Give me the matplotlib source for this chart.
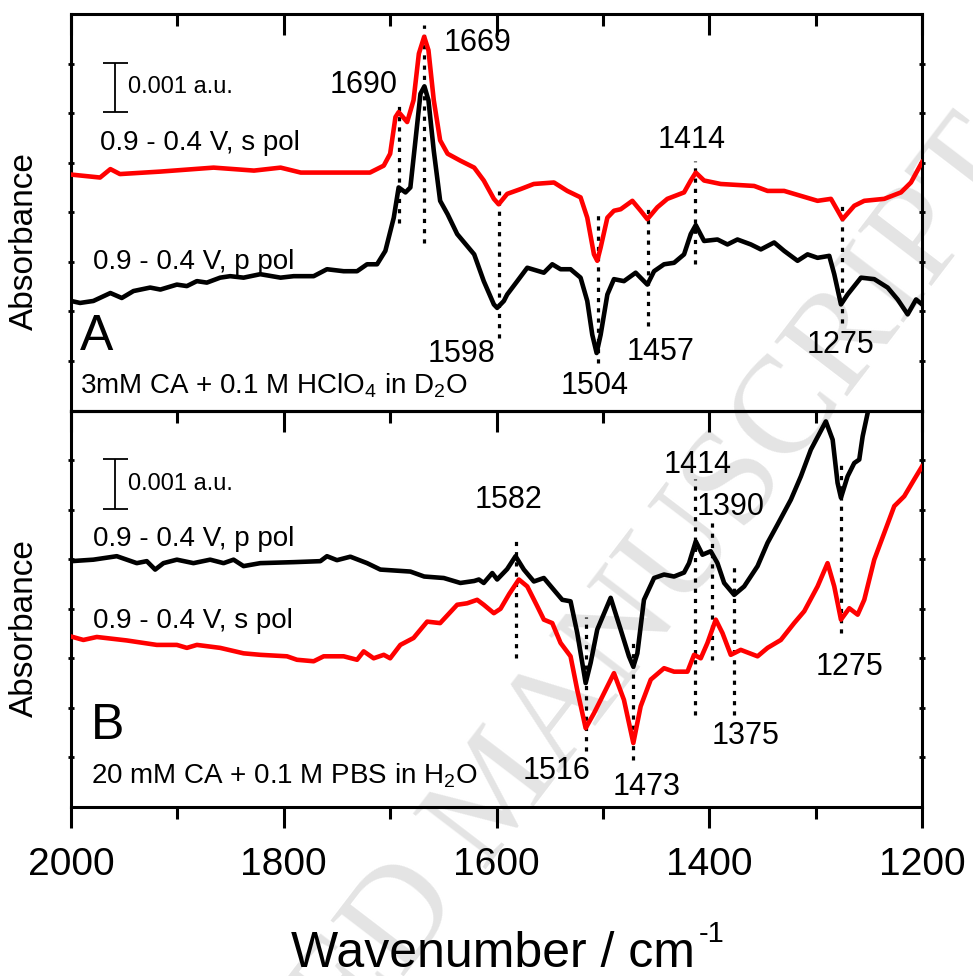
import matplotlib
matplotlib.use("Agg")
import matplotlib.pyplot as plt

plt.rcParams["font.family"] = ["Liberation Sans", "DejaVu Sans"]
plt.rcParams["mathtext.fontset"] = "custom"
plt.rcParams["mathtext.rm"] = "Liberation Sans"
plt.rcParams["mathtext.default"] = "regular"

# ---- panel A (3 mM CA + 0.1 M HClO4 in D2O), absorbance in 1e-3 a.u. (arbitrary offset) ----
wn_a_s = [2000, 1972.7, 1963, 1954, 1916, 1866, 1828, 1803, 1784, 1753, 1719, 1706, 1700, 1695,
          1692, 1684, 1678, 1673, 1668, 1664, 1659, 1653, 1646, 1634, 1621, 1612, 1602.5, 1598,
          1590, 1577, 1565, 1546, 1533.5, 1521, 1514.7, 1508.4, 1505.3, 1502.1, 1495.8, 1489.6,
          1483.3, 1472.3, 1464.5, 1458.2, 1448.8, 1439.4, 1423.7, 1417.4, 1412.7, 1404.9, 1389.2,
          1357.8, 1345.2, 1329.6, 1320.2, 1298.2, 1285.6, 1274.7, 1263.7, 1254.3, 1235.5, 1219.8,
          1210.4, 1200]
abs_a_s = [4.76, 4.70, 4.87, 4.77, 4.82, 4.90, 4.84, 4.90, 4.80, 4.80, 4.80, 4.94, 5.18, 5.92,
           6.02, 5.82, 6.26, 7.20, 7.54, 7.27, 6.26, 5.45, 5.18, 5.04, 4.90, 4.64, 4.27, 4.16,
           4.37, 4.47, 4.57, 4.60, 4.43, 4.30, 3.89, 3.15, 3.02, 3.29, 3.89, 4.03,
           4.06, 4.23, 4.03, 3.86, 4.10, 4.27, 4.40, 4.64, 4.80, 4.64, 4.57,
           4.53, 4.43, 4.43, 4.37, 4.23, 4.27, 3.86, 4.13, 4.23, 4.27, 4.40,
           4.60, 5.01]

wn_a_p = [2000, 1991.5, 1979, 1963, 1952.3, 1941.3, 1925.6, 1916, 1900.5, 1891.1, 1881.7, 1872.3,
          1859.8, 1850.4, 1837.8, 1822.1, 1803, 1790.7, 1771.9, 1759.4, 1743.7, 1731.1, 1721.7,
          1712.3, 1704.5, 1696.6, 1692, 1685.6, 1681, 1676.2, 1671.5, 1667.8, 1664, 1659, 1653,
          1646, 1637, 1621, 1612, 1602.5, 1599.4, 1593.1, 1590, 1580.5, 1571.1, 1555.5, 1547.6,
          1539.8, 1530.4, 1521, 1514.7, 1510, 1505.9, 1502.1, 1495.8, 1489.6, 1480.2, 1469.2,
          1458.2, 1451.9, 1442.5, 1433.1, 1423.7, 1417.4, 1412.7, 1404.9, 1392.3, 1382.9, 1373.5,
          1360.9, 1351.5, 1339, 1329.6, 1317, 1307.6, 1298.2, 1287.2, 1282.5, 1276.2, 1270,
          1257.4, 1244.9, 1232.3, 1222.9, 1213.5, 1205.6, 1200]
abs_a_p = [2.21, 2.17, 2.21, 2.37, 2.27, 2.41, 2.48, 2.44, 2.54, 2.51, 2.61, 2.58,
           2.68, 2.71, 2.68, 2.75, 2.68, 2.71, 2.71, 2.85, 2.81, 2.81, 2.95,
           2.95, 3.22, 3.89, 4.50, 4.40, 4.50, 5.45, 6.39, 6.54, 6.26, 5.24, 4.23,
           3.96, 3.56, 3.15, 2.61, 2.14, 2.07, 2.21, 2.34, 2.61, 2.88, 2.78, 2.95,
           2.85, 2.85, 2.68, 2.21, 1.53, 1.16, 1.53, 2.34, 2.65, 2.61, 2.78,
           2.54, 2.81, 2.95, 2.98, 3.15, 3.56, 3.74, 3.42, 3.45, 3.35, 3.45,
           3.35, 3.25, 3.39, 3.22, 3.02, 3.15, 3.08, 3.12, 2.75, 2.14, 2.34,
           2.68, 2.65, 2.48, 2.24, 1.94, 2.24, 2.14]

# ---- panel B (20 mM CA + 0.1 M PBS in H2O) ----
wn_b_p = [2000, 1979, 1957, 1947.6, 1938.2, 1928.8, 1920.9, 1913.1, 1900.5, 1884.9, 1869.2,
          1856.6, 1847.2, 1837.8, 1822.1, 1790.7, 1765.6, 1759.4, 1750, 1737.4, 1721.7, 1709.2,
          1681, 1668, 1649.6, 1634, 1621, 1616.6, 1612, 1604, 1599.4, 1590, 1582.1, 1574.3,
          1564.9, 1555.5, 1546.1, 1538.2, 1530.4, 1524.1, 1516.2, 1511.5, 1505.3, 1492.7, 1483.3,
          1475.5, 1471.4, 1467.6, 1461.4, 1451.9, 1442.5, 1433.1, 1423.7, 1419, 1412.7, 1406.4,
          1398.6, 1392.3, 1386, 1376.6, 1367.2, 1354.6, 1345.2, 1335.8, 1323.3, 1313.9, 1304.5,
          1290.4, 1284, 1279.4, 1276.2, 1270, 1263.7, 1259, 1255.8, 1251.1, 1246]
abs_b_p = [4.96, 4.99, 5.06, 4.99, 4.92, 4.96, 4.79, 4.92, 4.99, 4.92, 4.99,
           4.92, 4.99, 4.86, 4.92, 4.94, 4.96, 5.06, 4.98, 5.05, 4.92, 4.79,
           4.75, 4.65, 4.62, 4.52, 4.56, 4.59, 4.52, 4.72, 4.59, 4.80, 5.06, 4.79,
           4.55, 4.62, 4.38, 4.18, 4.15, 3.51, 2.50, 2.91, 3.58, 4.22, 3.58,
           3.04, 2.83, 3.10, 4.18, 4.62, 4.69, 4.65, 4.73, 4.92, 5.36, 5.09,
           5.16, 4.92, 4.52, 4.28, 4.45, 4.86, 5.33, 5.70, 6.20, 6.67, 7.21,
           7.78, 7.41, 6.54, 6.24, 6.67, 6.94, 7.01, 7.48, 7.95, 8.8]

wn_b_s = [2000, 1988.4, 1975.8, 1947.6, 1919.4, 1900.5, 1891.1, 1881.7, 1859.8, 1837.8, 1822.1,
          1797, 1787.6, 1771.9, 1762.5, 1743.7, 1731.1, 1724.9, 1715.5, 1706, 1700, 1690.4,
          1678, 1665.2, 1653, 1637, 1627.6, 1618.2, 1612, 1602.5, 1596.2, 1588, 1579, 1571.1,
          1561.7, 1555.5, 1547.6, 1539.8, 1530.4, 1524.1, 1516.2, 1508.4, 1502.1, 1489.6, 1480.2,
          1471.4, 1464.5, 1455, 1442.5, 1433.1, 1420.5, 1414.3, 1408, 1401.7, 1393.9, 1387.6,
          1379.8, 1370.4, 1354.6, 1345.2, 1332.7, 1320.2, 1310.7, 1298.2, 1288.8, 1282.5, 1276.2,
          1268.4, 1260.5, 1254.3, 1244.9, 1235.5, 1226.1, 1216.7, 1207.3, 1200]
abs_b_s = [3.44, 3.37, 3.43, 3.36, 3.27, 3.27, 3.21, 3.27, 3.21, 3.10, 3.07,
           3.04, 2.97, 2.94, 3.04, 3.04, 2.97, 3.14, 3.00, 3.07, 3.00, 3.27,
           3.41, 3.74, 3.71, 4.08, 4.11, 4.18, 4.08, 3.91, 4.00, 4.30, 4.59, 4.45,
           4.05, 3.78, 3.71, 3.31, 3.04, 2.36, 1.59, 1.89, 2.16, 2.70, 2.16,
           1.29, 2.03, 2.57, 2.80, 2.73, 2.73, 3.07, 3.00, 3.31, 3.78, 3.51,
           3.07, 3.17, 3.04, 3.21, 3.37, 3.71, 3.95, 4.45, 4.92, 4.45, 3.78,
           4.01, 3.88, 4.18, 4.99, 5.53, 6.07, 6.27, 6.61, 6.87]

# band assignments: (position, y_from, y_to) for the dotted markers
marks_a = [(1692, 3.79, 6.19), (1668, 3.38, 7.77), (1598, 1.46, 4.43), (1505, 0.95, 4.03),
           (1458, 1.70, 4.09), (1413, 2.96, 5.04), (1275, 1.76, 4.13)]
marks_b = [(1582, 3.01, 5.39), (1516, 1.12, 3.84), (1472, 0.95, 3.37), (1413.6, 1.86, 6.61),
           (1397, 2.97, 5.86), (1376.6, 1.86, 4.89), (1276, 3.51, 6.91)]

# peak labels: (text, x, y)
labels_a = [("1690", 1725, 6.56), ("1669", 1618, 7.41), ("1598", 1633, 1.15),
            ("1504", 1508, 0.49), ("1457", 1446, 1.19), ("1414", 1417, 5.45),
            ("1275", 1277, 1.33)]
labels_b = [("1582", 1589, 6.20), ("1414", 1411, 6.90), ("1390", 1380, 6.05),
            ("1275", 1268, 2.82), ("1375", 1366, 1.44), ("1516", 1544, 0.73),
            ("1473", 1459, 0.40)]

scale_bar = 1.0  # 0.001 a.u.

fig = plt.figure(figsize=(9.73, 9.76), dpi=100)
axA = fig.add_axes([0.073, 0.5794, 0.8746, 0.4063])
axB = fig.add_axes([0.073, 0.1732, 0.8746, 0.4062])

fig.text(0.515, 0.186, "ACCEPTED MANUSCRIPT", rotation=52.6, rotation_mode="anchor",
         ha="center", va="center", fontsize=100, family="Liberation Serif",
         color="#e4e4e4", zorder=-1)

dots = (0, (1.3, 1.9))
for ax, marks, labels in [(axA, marks_a, labels_a), (axB, marks_b, labels_b)]:
    ax.set_facecolor("none")
    ax.set_xlim(2000, 1200)
    ax.set_ylim(0, 8.0)
    for x, y0, y1 in marks:
        ax.plot([x, x], [y0, y1], color="k", lw=2.3, ls=dots, zorder=1)
    for t, x, y in labels:
        ax.text(x, y, t, fontsize=22, ha="center", va="center")
    ax.errorbar(1958.6, 6.52, yerr=scale_bar / 2, color="k", lw=1.3, capsize=9, capthick=1.3)
    ax.text(1946.5, 6.52, "0.001 a.u.", fontsize=17, va="center", ha="left")
    ax.set_xticks([2000, 1800, 1600, 1400, 1200])
    ax.set_xticks([1900, 1700, 1500, 1300], minor=True)
    ax.set_yticks(range(1, 8))
    ax.tick_params(axis="y", left=True, right=True, direction="inout", length=5, width=2,
                   labelleft=False)
    for s in ax.spines.values():
        s.set_linewidth(2.2)

axA.plot(wn_a_s, abs_a_s, color="red", lw=3.3, solid_joinstyle="round", zorder=3)
axA.plot(wn_a_p, abs_a_p, color="black", lw=3.3, solid_joinstyle="round", zorder=3)
axB.plot(wn_b_s, abs_b_s, color="red", lw=3.3, solid_joinstyle="round", zorder=3)
axB.plot(wn_b_p, abs_b_p, color="black", lw=3.3, solid_joinstyle="round", zorder=3)

axA.text(1972.7, 5.39, "0.9 - 0.4 V, s pol", fontsize=20, va="center")
axA.text(1979, 3.0, "0.9 - 0.4 V, p pol", fontsize=20, va="center")
axA.text(1991.5, 1.48, "A", fontsize=36, va="center")
axA.text(1991.5, 0.49, "3mM CA + 0.1 M HClO$_4$ in D$_2$O", fontsize=20, va="center")

axB.text(1979, 5.41, "0.9 - 0.4 V, p pol", fontsize=20, va="center")
axB.text(1979, 3.76, "0.9 - 0.4 V, s pol", fontsize=20, va="center")
axB.text(1981, 1.64, "B", fontsize=36, va="center")
axB.text(1981, 0.63, "20 mM CA + 0.1 M PBS in H$_2$O", fontsize=20, va="center")

axA.tick_params(axis="x", which="both", top=True, bottom=False, direction="in",
                labelbottom=False, width=2.2)
axA.tick_params(axis="x", which="major", length=15)
axA.tick_params(axis="x", which="minor", length=8.5)

axB.tick_params(axis="x", which="both", top=False, bottom=True, direction="out",
                labelsize=28, width=2.2, pad=14)
axB.tick_params(axis="x", which="major", length=15)
axB.tick_params(axis="x", which="minor", length=8.5)
top = axB.secondary_xaxis("top")
top.set_xticks([2000, 1800, 1600, 1400, 1200])
top.set_xticks([1900, 1700, 1500, 1300], minor=True)
top.tick_params(which="both", direction="in", labeltop=False, width=2.2)
top.tick_params(which="major", length=15)
top.tick_params(which="minor", length=8.5)
top.spines["top"].set_linewidth(2.2)

fig.text(0.025, 0.753, "Absorbance", rotation=90, fontsize=24, ha="center", va="center")
fig.text(0.025, 0.357, "Absorbance", rotation=90, fontsize=24, ha="center", va="center")
fig.text(695 / 973, 1 - 967 / 976, "Wavenumber / cm", fontsize=36, ha="right", va="baseline")
fig.text(699 / 973, 1 - 942 / 976, "-1", fontsize=21, ha="left", va="baseline")

fig.savefig("out.png", dpi=100)
